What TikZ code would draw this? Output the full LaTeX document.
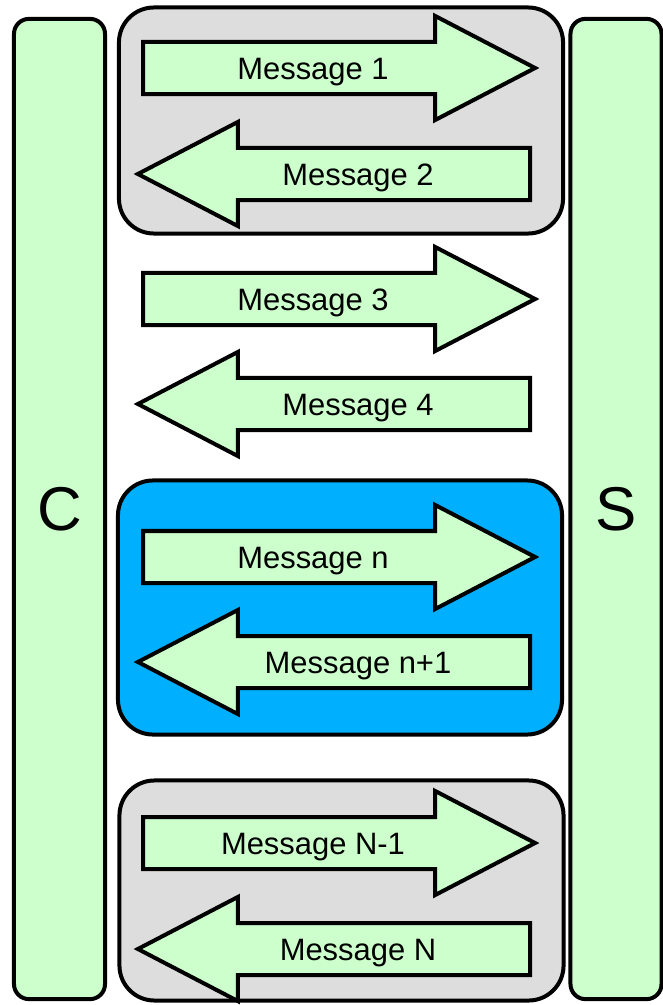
\documentclass[tikz,border=0pt]{standalone}
\usepackage{fontspec}
\setmainfont{Liberation Sans}
\usetikzlibrary{shapes.arrows}

\definecolor{msggreen}{HTML}{CCFFCC}
\definecolor{groupgray}{HTML}{DDDDDD}
\definecolor{groupblue}{HTML}{00B0FF}

\begin{document}
\begin{tikzpicture}[x=0.025cm,y=-0.025cm,line width=0.1cm,
  side/.style={draw,fill=msggreen,rounded corners=0.375cm,minimum width=2.275cm,
    minimum height=24.5cm,font=\fontsize{44}{44}\selectfont},
  group/.style={draw,rounded corners=0.875cm,minimum width=11.1cm},
  msgarrow/.style={single arrow,draw,fill=msggreen,inner xsep=0pt,inner ysep=0.6cm,
    single arrow head extend=0.65cm,single arrow tip angle=55,minimum height=9.8cm},
  toserver/.style={msgarrow,anchor=tail},
  toclient/.style={msgarrow,shape border rotate=180,anchor=tail},
  msg/.style={font=\fontsize{22}{22}\selectfont}]
  \useasboundingbox[fill=white] (0,0) rectangle (663,1005);

  % client and server
  \node[side] (C) at (59.5,509) {C};
  \node[side] (S) at (616,509) {S};

  % exchanges that belong together
  \node[group,fill=groupgray,minimum height=5.65cm] (g1) at (341,120.5) {};
  \node[group,fill=groupblue,minimum height=6.35cm] (gn) at (340,607.5) {};
  \node[group,fill=groupgray,minimum height=5.5cm] (gN) at (341.5,890.5) {};

  % requests
  \foreach \y/\name/\txt in {68/m1/Message 1,299/m3/Message 3,557/mn/Message n,843/mN1/Message N-1}{
    \node[toserver] (\name) at (141,\y) {};
    \node[msg] (\name-t) at (313,\y+4) {\txt};
  }
  % replies
  \foreach \y/\name/\txt in {174/m2/Message 2,404/m4/Message 4,662/mn1/Message n+1,949/mN/Message N}{
    \node[toclient] (\name) at (532,\y) {};
    \node[msg] (\name-t) at (358,\y+4) {\txt};
  }
\end{tikzpicture}
\end{document}
